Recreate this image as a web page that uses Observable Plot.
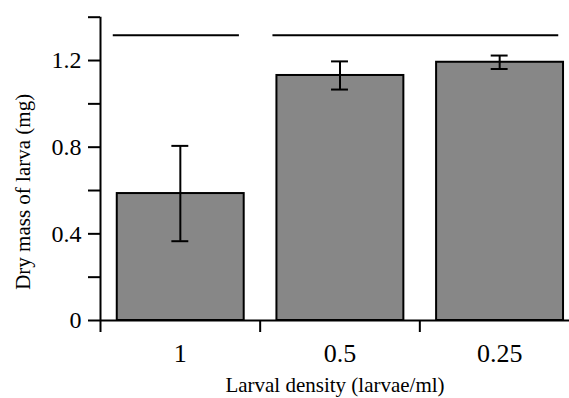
<!DOCTYPE html>
<html>
<head>
<meta charset="utf-8">
<script src="https://cdn.jsdelivr.net/npm/d3@7"></script>
<script src="https://cdn.jsdelivr.net/npm/@observablehq/plot@0.6"></script>
<style>
  html, body { margin: 0; padding: 0; background: white; overflow: hidden; }
</style>
</head>
<body>
<div id="chart"></div>
<script>
// Data
const categories = ["1", "0.5", "0.25"];
const means = [0.586, 1.131, 1.192];
const errors = [0.22, 0.065, 0.031];
const yTicks = [0, 0.2, 0.4, 0.6, 0.8, 1.0, 1.2, 1.4];
const yTickLabels = ["0", "", "0.4", "", "0.8", "", "1.2", ""];
const sigFrom = [0, 1];   // first category index of each group
const sigTo = [0, 2];     // last category index of each group
const sigLevel = 1.317;
const xTitle = "Larval density (larvae/ml)";
const yTitle = "Dry mass of larva (mg)";

const rows = categories.map((c, i) => ({i, c, v: means[i], e: errors[i]}));
const groups = sigFrom.map((f, k) => ({from: f, to: sigTo[k], y: sigLevel}));

const font = "'Liberation Serif', 'Times New Roman', serif";

const chart = Plot.plot({
  width: 569,
  height: 398,
  marginLeft: 100,
  marginRight: 0,
  marginTop: 16.7,
  marginBottom: 78,
  x: {domain: [0, categories.length], range: [100, 579]},
  y: {domain: [0, 1.4]},
  style: {fontFamily: font, background: "white", color: "black"},
  marks: [
    Plot.rectY(rows, {x1: d => d.i + 0.105, x2: d => d.i + 0.9, y: "v", fill: "#878787", stroke: "black", strokeWidth: 2}),
    Plot.ruleX(rows, {x: d => d.i + 0.5, y1: d => d.v - d.e, y2: d => d.v + d.e, stroke: "black", strokeWidth: 2}),
    Plot.ruleY(rows, {y: d => d.v + d.e, x1: d => d.i + 0.447, x2: d => d.i + 0.553, stroke: "black", strokeWidth: 2}),
    Plot.ruleY(rows, {y: d => d.v - d.e, x1: d => d.i + 0.447, x2: d => d.i + 0.553, stroke: "black", strokeWidth: 2}),
    Plot.ruleY(groups, {y: "y", x1: d => d.from + 0.08, x2: d => d.to + 0.87, stroke: "black", strokeWidth: 2}),
    Plot.ruleY([0], {stroke: "black", strokeWidth: 2}),
    Plot.ruleX([0], {y1: 0, y2: 1.4, stroke: "black", strokeWidth: 2}),
    Plot.axisY({ticks: yTicks, tickSize: 12, tickPadding: 7, strokeWidth: 2,
      tickFormat: (d, i) => yTickLabels[yTicks.indexOf(d)], fontSize: 24, fontFamily: font, label: null}),
    Plot.axisX({ticks: d3.range(categories.length + 1), tickSize: 12, strokeWidth: 2, tickFormat: () => "", label: null}),
    Plot.axisX({ticks: categories.map((c, i) => i + 0.5), tickSize: 0, tickPadding: 23,
      tickFormat: d => categories[Math.floor(d)], fontSize: 26, fontFamily: font, label: null}),
    Plot.text([xTitle], {frameAnchor: "bottom", lineAnchor: "middle", dy: 65, fontSize: 21, fontFamily: font, fill: "black"}),
    Plot.text([yTitle], {frameAnchor: "left", textAnchor: "middle", lineAnchor: "middle", rotate: -90, dx: -77, dy: 23, fontSize: 21, fontFamily: font, fill: "black"})
  ]
});
document.getElementById("chart").appendChild(chart);
</script>
</body>
</html>
